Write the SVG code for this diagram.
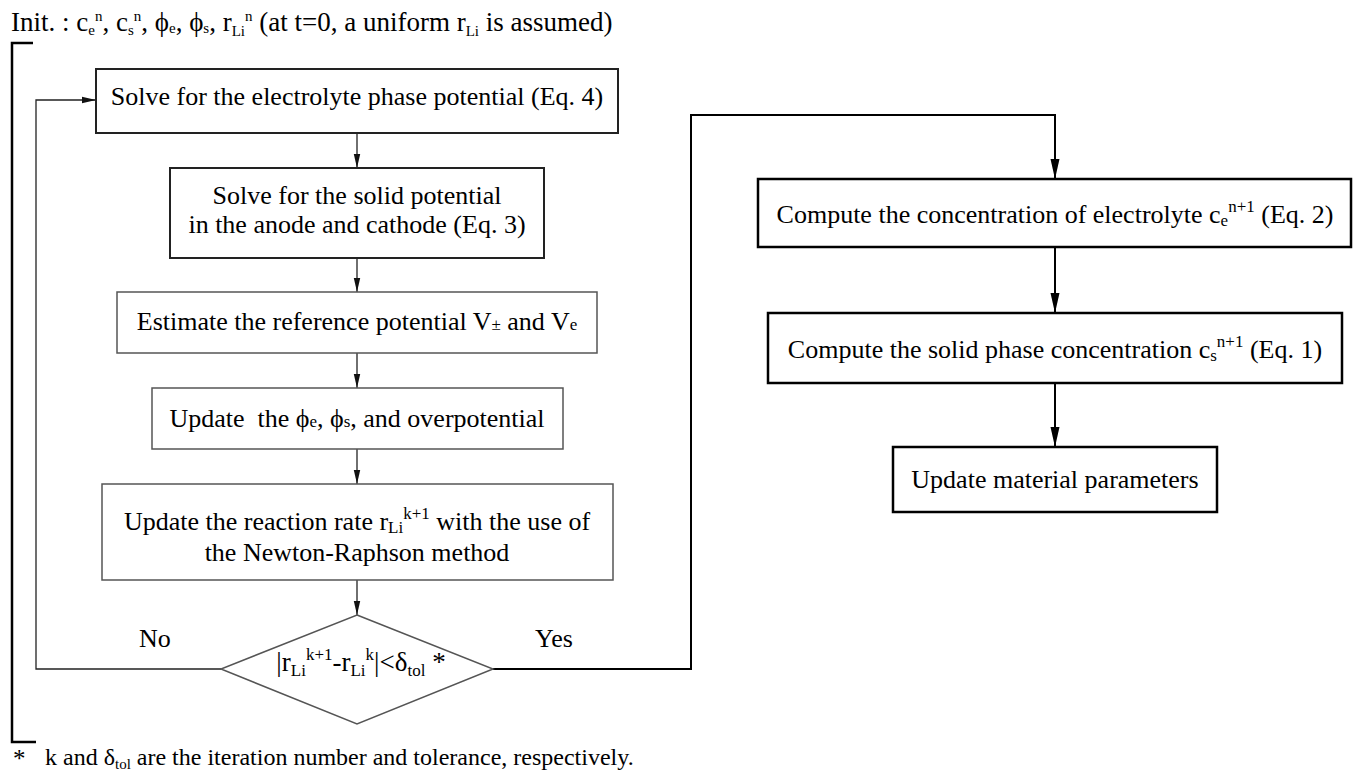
<svg xmlns="http://www.w3.org/2000/svg" width="1353" height="774" viewBox="0 0 1353 774">
<defs>
<marker id="ah" markerUnits="userSpaceOnUse" markerWidth="14" markerHeight="8" refX="14" refY="4" orient="auto"><path d="M0,0.8 L14,4 L0,7.2 z" fill="#111"/></marker>
<marker id="ahb" markerUnits="userSpaceOnUse" markerWidth="20" markerHeight="10" refX="20" refY="5" orient="auto"><path d="M0,0.5 L20,5 L0,9.5 z" fill="#000"/></marker>
</defs>
<style>
text{font-family:"Liberation Serif","Times New Roman",serif;font-size:26px;fill:#000}
.m{text-anchor:middle}
.s{font-size:17px}
.t{font-size:15px}
.ttl{font-size:27px}
.dia{font-size:27px}
.fn{font-size:24px}
.fs{font-size:15px}
.st{font-size:25px}
.b1{fill:#fff;stroke:#222;stroke-width:2}
.b2{fill:#fff;stroke:#555;stroke-width:1.5}
.b3{fill:#fff;stroke:#000;stroke-width:2.5}
.c1{fill:none;stroke:#222;stroke-width:1.3}
.c2{fill:none;stroke:#000;stroke-width:2}
.br{fill:none;stroke:#000;stroke-width:2.5}
</style>

<g id="title">
<text class="ttl" x="11" y="31">Init. : c<tspan class="t" dy="4">e</tspan><tspan class="t" dy="-14">n</tspan><tspan dy="10">, c</tspan><tspan class="t" dy="4">s</tspan><tspan class="t" dy="-14">n</tspan><tspan dy="10">, ϕ</tspan><tspan class="t" dy="2">e</tspan><tspan dy="-2">, ϕ</tspan><tspan class="t" dy="2">s</tspan><tspan dy="-2">, r</tspan><tspan class="t" dy="5">Li</tspan><tspan class="t" dy="-15">n</tspan><tspan dy="10"> (at t=0, a uniform r</tspan><tspan class="t" dy="5">Li</tspan><tspan dy="-5"> is assumed)</tspan></text>
</g>

<g id="bracket">
<path class="br" d="M33,43 H12 V742 H36"/>
</g>

<g id="connectors">
<line class="c1" x1="357" y1="133" x2="357" y2="168" marker-end="url(#ah)"/>
<line class="c1" x1="357" y1="258" x2="357" y2="292" marker-end="url(#ah)"/>
<line class="c1" x1="357" y1="353" x2="357" y2="388" marker-end="url(#ah)"/>
<line class="c1" x1="357" y1="449" x2="357" y2="484" marker-end="url(#ah)"/>
<line class="c1" x1="357" y1="580" x2="357" y2="615" marker-end="url(#ah)"/>
<path class="c1" d="M221,669 H36 V100 H96" marker-end="url(#ah)"/>
<path class="c2" d="M493,669 H691 V115 H1055 V179" marker-end="url(#ahb)"/>
<line class="c2" x1="1055" y1="247" x2="1055" y2="313" marker-end="url(#ahb)"/>
<line class="c2" x1="1055" y1="383" x2="1055" y2="447" marker-end="url(#ahb)"/>
<text x="139" y="647">No</text>
<text x="535" y="647">Yes</text>
</g>

<g id="n1">
<rect class="b1" x="96" y="69" width="522" height="64"/>
<text class="m" x="357" y="105">Solve for the electrolyte phase potential (Eq. 4)</text>
</g>

<g id="n2">
<rect class="b1" x="170" y="168" width="374" height="90"/>
<text class="m" x="357" y="204">Solve for the solid potential</text>
<text class="m" x="357" y="233">in the anode and cathode (Eq. 3)</text>
</g>

<g id="n3">
<rect class="b2" x="117" y="292" width="480" height="61"/>
<text class="m" x="357" y="330">Estimate the reference potential V<tspan class="s">±</tspan> and V<tspan class="s">e</tspan></text>
</g>

<g id="n4">
<rect class="b2" x="152" y="388" width="411" height="61"/>
<text class="m" x="357" y="427" xml:space="preserve">Update  the ϕ<tspan class="s">e</tspan>, ϕ<tspan class="s">s</tspan>, and overpotential</text>
</g>

<g id="n5">
<rect class="b2" x="102" y="484" width="511" height="96"/>
<text class="m" x="357" y="530">Update the reaction rate r<tspan class="s" dy="3">Li</tspan><tspan class="s" dy="-14">k+1</tspan><tspan dy="11"> with the use of</tspan></text>
<text class="m" x="357" y="561">the Newton-Raphson method</text>
</g>

<g id="n6">
<polygon class="b2" points="357,615 493,669 357,724 221,669"/>
<text class="m dia" x="361" y="671">|r<tspan class="s" dy="5">Li</tspan><tspan class="s" dy="-16">k+1</tspan><tspan dy="11">-r</tspan><tspan class="s" dy="5">Li</tspan><tspan class="s" dy="-16">k</tspan><tspan dy="11">|&lt;δ</tspan><tspan class="s" dy="5">tol</tspan><tspan dy="-5"> *</tspan></text>
</g>

<g id="n7">
<rect class="b3" x="758" y="179" width="593" height="68"/>
<text class="m" x="1055" y="223">Compute the concentration of electrolyte c<tspan class="s" dy="3">e</tspan><tspan class="s" dy="-14">n+1</tspan><tspan dy="11"> (Eq. 2)</tspan></text>
</g>

<g id="n8">
<rect class="b3" x="768" y="313" width="574" height="70"/>
<text class="m" x="1055" y="358">Compute the solid phase concentration c<tspan class="s" dy="3">s</tspan><tspan class="s" dy="-14">n+1</tspan><tspan dy="11"> (Eq. 1)</tspan></text>
</g>

<g id="n9">
<rect class="b3" x="893" y="447" width="324" height="65"/>
<text class="m" x="1055" y="488">Update material parameters</text>
</g>

<g id="footnote">
<text class="st" x="13" y="767">*</text>
<text class="fn" x="45" y="765">k and δ<tspan class="fs" dy="4">tol</tspan><tspan dy="-4"> are the iteration number and tolerance, respectively.</tspan></text>
</g>
</svg>
